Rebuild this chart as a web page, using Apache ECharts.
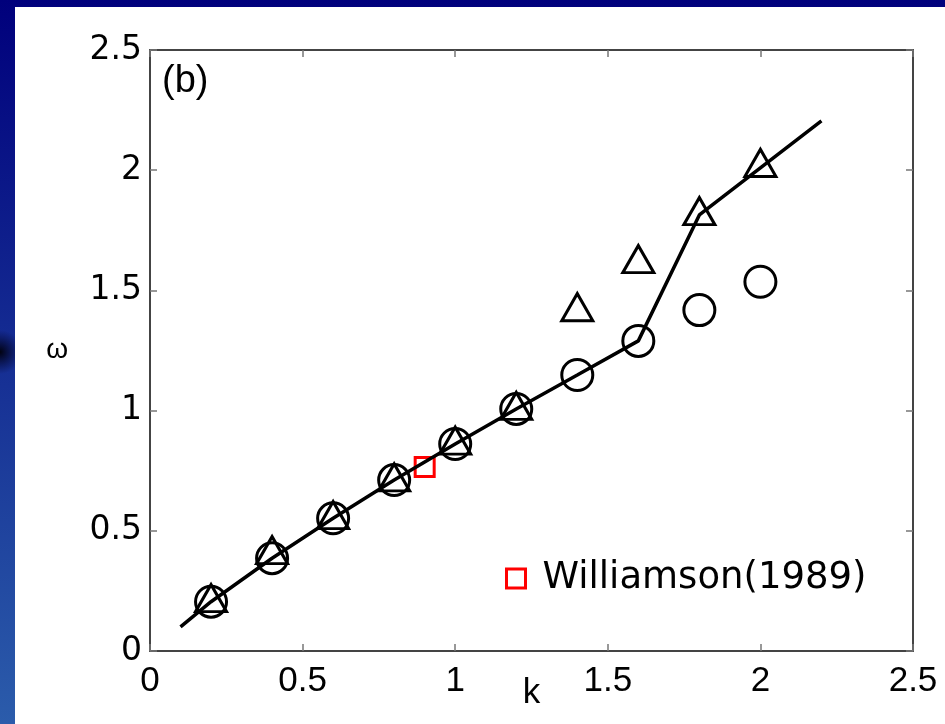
<!DOCTYPE html>
<html>
<head>
<meta charset="utf-8">
<title>Dispersion relation ω(k)</title>
<script src="https://cdn.jsdelivr.net/npm/echarts@6/dist/echarts.min.js"></script>
<style>
  html, body { margin: 0; padding: 0; background: #fff; }
  #chart { width: 945px; height: 724px; }
</style>
</head>
<body>
<div id="chart"></div>
<script>
// Wavenumbers of the measured points
const kValues = [0.2, 0.4, 0.6, 0.8, 1.0, 1.2, 1.4, 1.6, 1.8, 2.0];
// Frequencies for the circle markers
const circleOmega = [0.205, 0.386, 0.552, 0.711, 0.861, 1.007, 1.148, 1.29, 1.418, 1.536];
// Frequencies for the triangle markers
const triangleOmega = [0.22, 0.42, 0.565, 0.722, 0.875, 1.02, 1.43, 1.63, 1.83, 2.03];
// Solid reference curve
const curveK = [0.1, 0.2, 0.4, 0.6, 0.8, 1.0, 1.2, 1.4, 1.6, 1.8, 2.2];
const curveOmega = [0.1, 0.205, 0.386, 0.552, 0.711, 0.861, 1.007, 1.148, 1.29, 1.814, 2.205];
// Williamson (1989) point
const williamsonK = [0.9];
const williamsonOmega = [0.765];
// Tick labels
const xTickLabels = ['0', '0.5', '1', '1.5', '2', '2.5'];
const yTickLabels = ['0', '0.5', '1', '1.5', '2', '2.5'];

const pairs = (xs, ys) => xs.map((x, i) => [x, ys[i]]);
const tickLabel = (labels) => (v) => labels[Math.round(v / 0.5)];

const axisLine = { show: true, onZero: false, lineStyle: { color: '#444', width: 2 } };
const axisTick = { show: true, inside: true, length: 7, lineStyle: { color: '#777', width: 1.5 } };
const hollow = (c) => ({ color: 'rgba(0,0,0,0)', borderColor: c, borderWidth: 3, opacity: 1 });

const chart = echarts.init(document.getElementById('chart'), null, { renderer: 'canvas' });
chart.setOption({
  animation: false,
  backgroundColor: {
    type: 'linear', x: 0, y: 0, x2: 0, y2: 1,
    colorStops: [{ offset: 0, color: '#00007c' }, { offset: 1, color: '#2b5cab' }]
  },
  graphic: [
    {
      type: 'ellipse', z: -20, silent: true,
      shape: { cx: 0, cy: 352, rx: 22, ry: 30 },
      style: {
        fill: {
          type: 'radial', x: 0.5, y: 0.5, r: 0.5,
          colorStops: [{ offset: 0, color: 'rgba(0,0,10,0.95)' }, { offset: 1, color: 'rgba(0,0,40,0)' }]
        }
      }
    },
    { type: 'rect', z: -10, silent: true, shape: { x: 15, y: 7, width: 930, height: 717 }, style: { fill: '#ffffff' } },
    {
      type: 'text', left: 162, top: 63, z: 5,
      style: { text: '(b)', fontFamily: 'Liberation Sans', fontSize: 38, fill: '#000' }
    }
  ],
  grid: { left: 150, right: 32, top: 50, bottom: 73, outerBoundsMode: 'none', containLabel: false },
  legend: {
    data: ['Williamson(1989)'],
    left: 500, top: 555,
    icon: 'rect', itemWidth: 19, itemHeight: 19,
    itemStyle: hollow('#ff0000'),
    textStyle: { fontFamily: 'DejaVu Sans', fontSize: 37, color: '#000', padding: [0, 0, 0, 12] }
  },
  xAxis: [
    {
      type: 'value', position: 'bottom', min: 0, max: 2.5, interval: 0.5,
      axisLine, axisTick, splitLine: { show: false },
      axisLabel: { formatter: tickLabel(xTickLabels), fontFamily: 'Liberation Sans', fontSize: 35, color: '#000', margin: 13 },
      name: 'k', nameLocation: 'middle', nameGap: 25, nameMoveOverlap: false,
      nameTextStyle: { fontFamily: 'Liberation Sans', fontSize: 35, color: '#000' }
    },
    {
      type: 'value', position: 'top', min: 0, max: 2.5, interval: 0.5,
      axisLine, axisTick, splitLine: { show: false }, axisLabel: { show: false }
    }
  ],
  yAxis: [
    {
      type: 'value', position: 'left', min: 0, max: 2.5, interval: 0.5,
      axisLine, axisTick, splitLine: { show: false },
      axisLabel: { formatter: tickLabel(yTickLabels), fontFamily: 'DejaVu Sans', fontSize: 33, color: '#000', margin: 8 },
      name: 'ω', nameLocation: 'middle', nameRotate: 0, nameGap: 82, nameMoveOverlap: false,
      nameTextStyle: { fontFamily: 'Liberation Sans', fontSize: 28, color: '#000' }
    },
    {
      type: 'value', position: 'right', min: 0, max: 2.5, interval: 0.5,
      axisLine, axisTick, splitLine: { show: false }, axisLabel: { show: false }
    }
  ],
  series: [
    {
      type: 'line', silent: true, symbol: 'none',
      data: pairs(curveK, curveOmega),
      lineStyle: { color: '#000', width: 3.5 }
    },
    {
      type: 'scatter', name: 'circles', symbol: 'circle', symbolSize: 31,
      data: pairs(kValues, circleOmega), itemStyle: hollow('#000')
    },
    {
      type: 'scatter', name: 'triangles', symbol: 'triangle', symbolSize: [31, 27],
      data: pairs(kValues, triangleOmega), itemStyle: hollow('#000')
    },
    {
      type: 'scatter', name: 'Williamson(1989)', symbol: 'rect', symbolSize: 19,
      data: pairs(williamsonK, williamsonOmega), itemStyle: hollow('#ff0000')
    }
  ]
});
</script>
</body>
</html>
